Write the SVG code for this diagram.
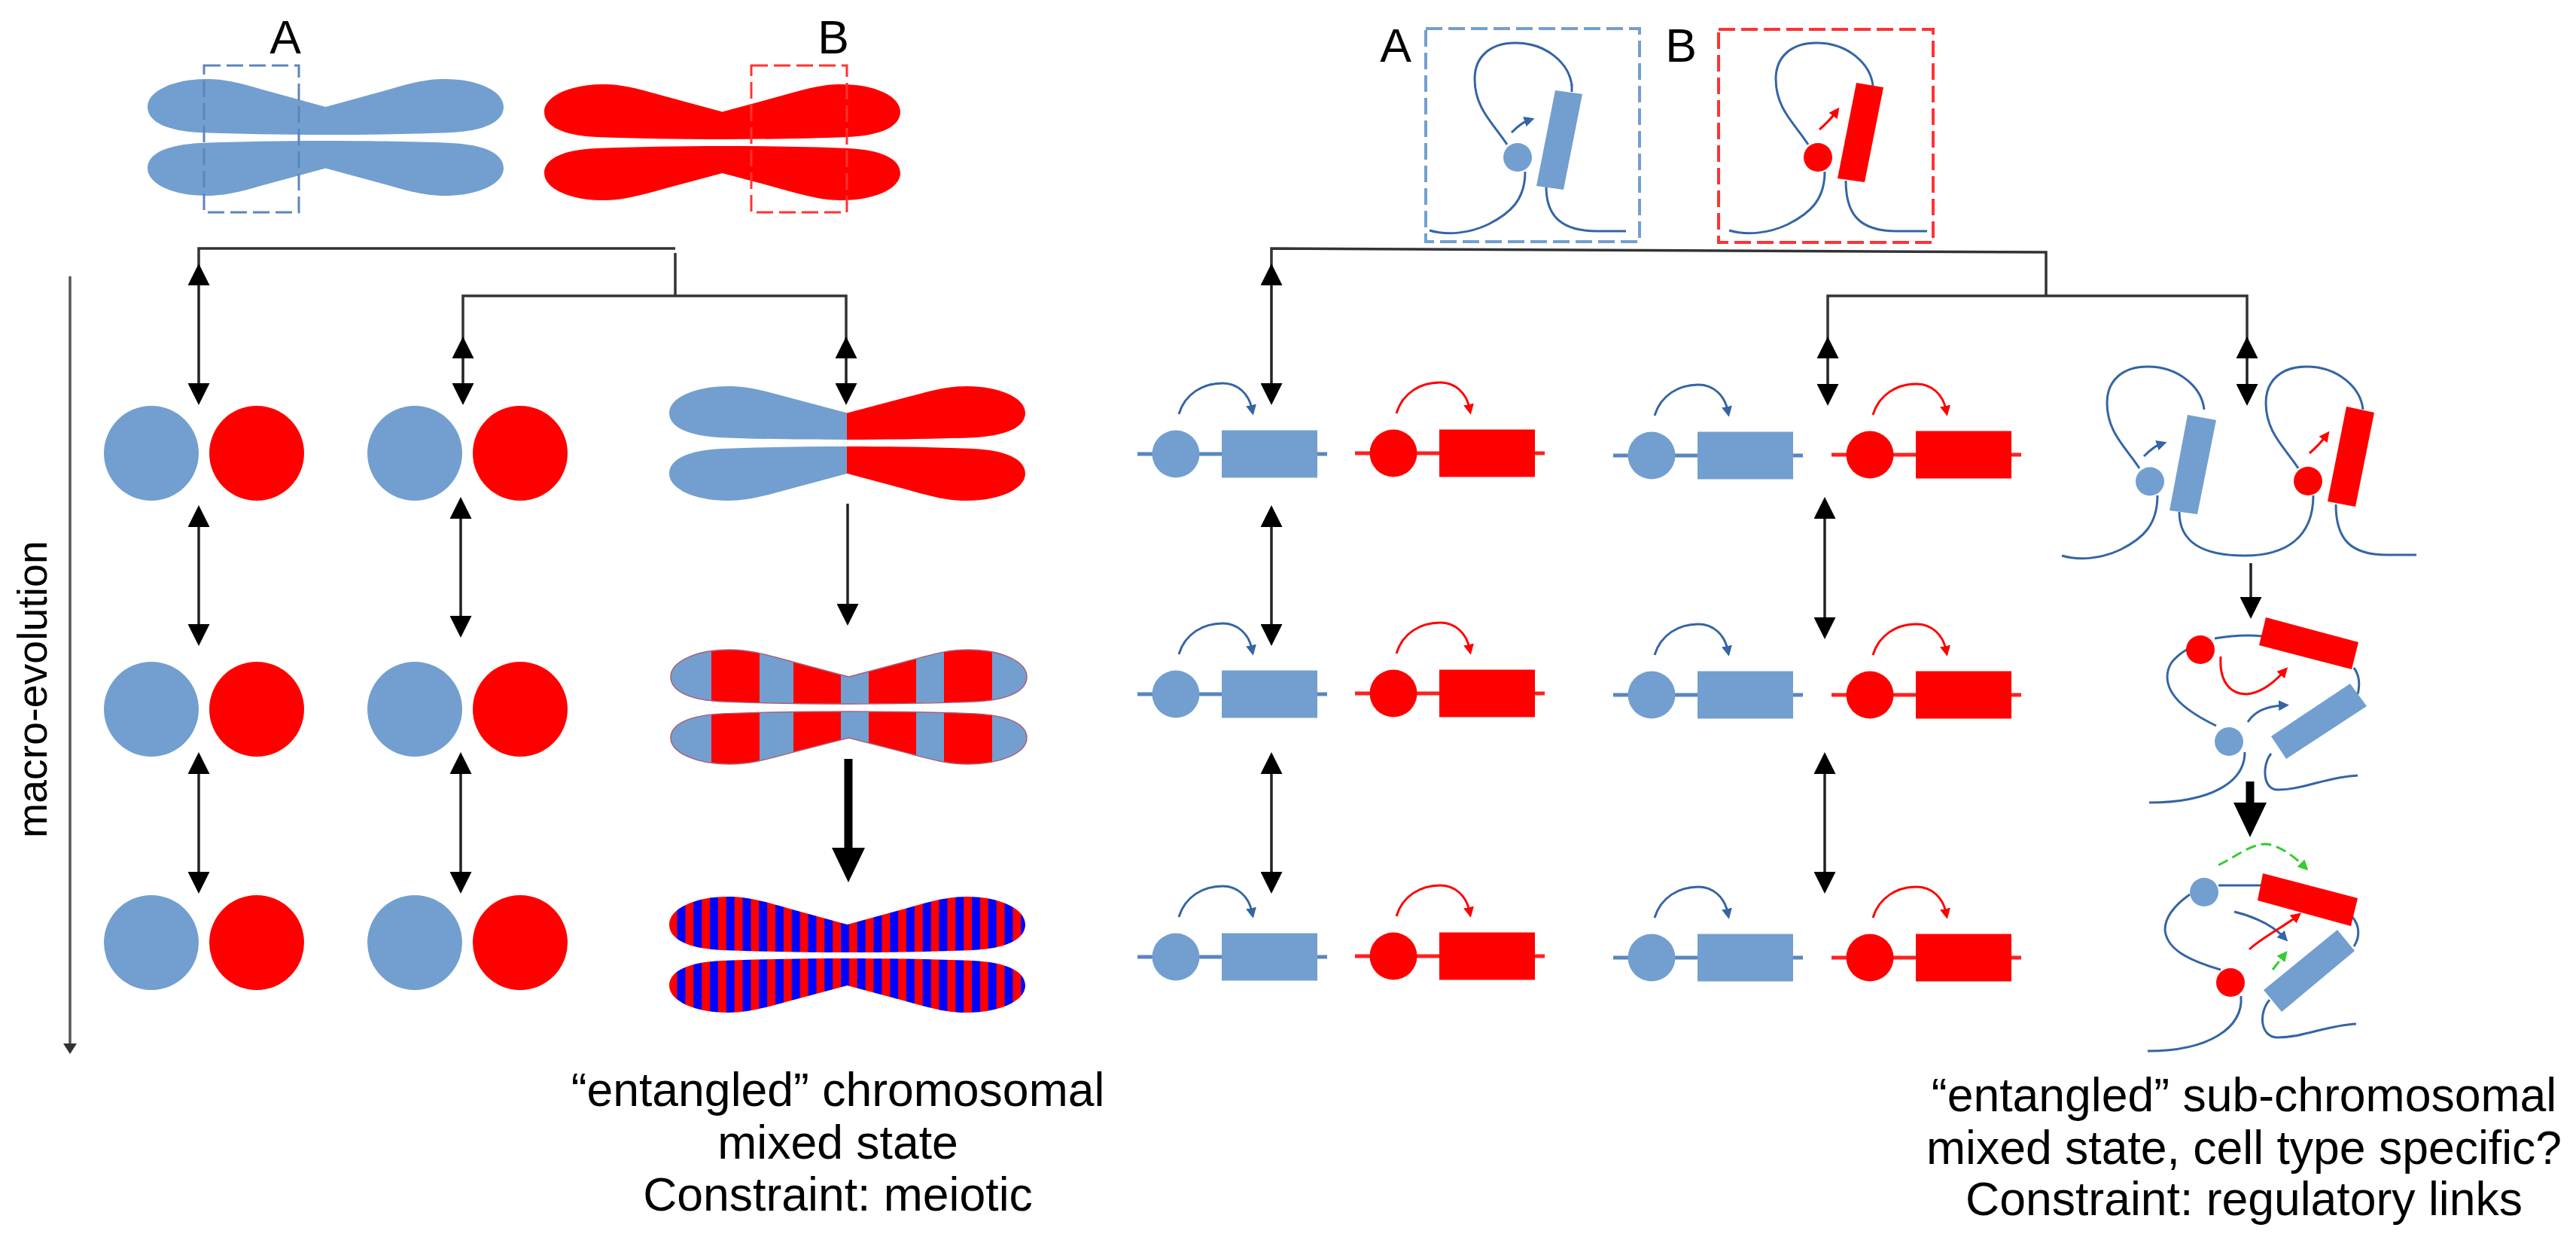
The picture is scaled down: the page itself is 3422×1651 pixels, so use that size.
<svg xmlns="http://www.w3.org/2000/svg" xmlns:xlink="http://www.w3.org/1999/xlink" width="3422" height="1651" viewBox="0 0 3422 1651">
<style>
text{font-family:"Liberation Sans",Arial,sans-serif;fill:#000}
.t{font-size:62.5px;text-anchor:middle}
.b{fill:#729fcf}
.r{fill:#ff0000}
.s{fill:none;stroke:#3465a4;stroke-width:3}
.ab{fill:none;stroke:#3465a4;stroke-width:3;marker-end:url(#hb)}
.ar{fill:none;stroke:#ff0000;stroke-width:3;marker-end:url(#hr)}
.ag{fill:none;stroke:#33cc33;stroke-width:3;stroke-dasharray:14 7;marker-end:url(#hg)}
.c{fill:none;stroke:#333;stroke-width:3.5}
.d{stroke:#222;stroke-width:3.5;fill:none;marker-start:url(#hk);marker-end:url(#hk)}
.o{stroke:#222;stroke-width:3.5;fill:none;marker-end:url(#hk)}
.th{stroke:#000;stroke-width:11;fill:none;marker-end:url(#hbig)}
.db{fill:none;stroke:#729fcf;stroke-width:4;stroke-dasharray:22 8}
.dr{fill:none;stroke:#ff3333;stroke-width:4;stroke-dasharray:22 8}
</style>
<defs>
<marker id="hk" markerUnits="userSpaceOnUse" markerWidth="29" markerHeight="29" refX="10" refY="14.5" orient="auto-start-reverse"><path d="M0,0L29,14.5L0,29Z" fill="#000"/></marker>
<marker id="hm" markerUnits="userSpaceOnUse" markerWidth="14" markerHeight="18" refX="6" refY="9" orient="auto"><path d="M0,0L14,9L0,18Z" fill="#333"/></marker>
<marker id="hbig" markerUnits="userSpaceOnUse" markerWidth="46" markerHeight="44" refX="10" refY="22" orient="auto"><path d="M0,0L46,22L0,44Z" fill="#000"/></marker>
<marker id="hb" markerUnits="userSpaceOnUse" markerWidth="14" markerHeight="14" refX="5" refY="7" orient="auto"><path d="M0,0L14,7L0,14Z" fill="#3465a4"/></marker>
<marker id="hr" markerUnits="userSpaceOnUse" markerWidth="14" markerHeight="14" refX="5" refY="7" orient="auto"><path d="M0,0L14,7L0,14Z" fill="#ff0000"/></marker>
<marker id="hg" markerUnits="userSpaceOnUse" markerWidth="14" markerHeight="14" refX="5" refY="7" orient="auto"><path d="M0,0L14,7L0,14Z" fill="#33cc33"/></marker>
<path id="chr" d="M236.5,37L160,16C125,6 105,0 78,0C34,0 0,16 0,37C0,57 26,69 70,71C120,73 180,74 236.5,74C293,74 353,73 403,71C447,69 473,57 473,37C473,16 439,0 395,0C368,0 348,6 313,16Z"/>
<pattern id="split" patternUnits="userSpaceOnUse" width="473" height="80"><rect width="236" height="80" fill="#729fcf"/><rect x="236" width="237" height="80" fill="#ff0000"/></pattern>
<pattern id="bands" patternUnits="userSpaceOnUse" width="473" height="80"><rect width="473" height="80" fill="#ff0000"/><rect width="54" height="80" fill="#729fcf"/><rect x="118" width="45" height="80" fill="#729fcf"/><rect x="226" width="37" height="80" fill="#729fcf"/><rect x="326" width="37" height="80" fill="#729fcf"/><rect x="427" width="46" height="80" fill="#729fcf"/></pattern>
<pattern id="fine" patternUnits="userSpaceOnUse" x="228" width="21.75" height="80"><rect width="21.75" height="80" fill="#ff0000"/><rect width="11" height="80" fill="#0000ff"/></pattern>
<g id="geneB"><path d="M-51,0H201" stroke="#5a86bd" stroke-width="5" fill="none"/><circle r="31.5" class="b"/><rect x="61" y="-31.5" width="127" height="63" class="b"/><path class="ab" d="M4,-53C12,-80 36,-94 62,-94C82,-94 97,-80 101,-60"/></g>
<g id="geneR"><path d="M-51,0H201" stroke="#ff2020" stroke-width="5" fill="none"/><circle r="31.5" class="r"/><rect x="61" y="-31.5" width="127" height="63" class="r"/><path class="ar" d="M4,-53C12,-80 36,-94 62,-94C82,-94 97,-80 101,-60"/></g>
<g id="loopTop"><path class="s" d="M2402,192C2385,165 2359,145 2359,105C2359,75 2380,57 2413,57C2455,57 2485,85 2488,114"/></g>
</defs>
<rect width="3422" height="1651" fill="#fff"/>

<g id="chromosome-a"><use href="#chr" class="b" transform="translate(196,105)"/><use href="#chr" class="b" transform="translate(196,260) scale(1,-.986)"/><rect class="db" x="271" y="87" width="126" height="195" style="stroke:#5a86bd;stroke-width:3"/><text class="t" x="379" y="71">A</text></g>
<g id="chromosome-b"><use href="#chr" class="r" transform="translate(723,112) scale(1,.986)"/><use href="#chr" class="r" transform="translate(723,266) scale(1,-.973)"/><rect class="dr" x="998" y="87" width="127" height="195" style="stroke-width:3"/><text class="t" x="1107" y="71">B</text></g>

<g id="macro-evolution-label"><text transform="translate(62,1113) rotate(-90)" font-size="55.5">macro-evolution</text></g>

<g id="c1-r1"><circle cx="201" cy="602" r="63" class="b"/><circle cx="341" cy="602" r="63" class="r"/></g>
<g id="c1-r2"><circle cx="201" cy="942" r="63" class="b"/><circle cx="341" cy="942" r="63" class="r"/></g>
<g id="c1-r3"><circle cx="201" cy="1252" r="63" class="b"/><circle cx="341" cy="1252" r="63" class="r"/></g>
<g id="c2-r1"><circle cx="551" cy="602" r="63" class="b"/><circle cx="691" cy="602" r="63" class="r"/></g>
<g id="c2-r2"><circle cx="551" cy="942" r="63" class="b"/><circle cx="691" cy="942" r="63" class="r"/></g>
<g id="c2-r3"><circle cx="551" cy="1252" r="63" class="b"/><circle cx="691" cy="1252" r="63" class="r"/></g>

<g id="chr-split"><use href="#chr" fill="url(#split)" transform="translate(889,513) scale(1,.96)"/><use href="#chr" fill="url(#split)" transform="translate(889,665) scale(1,-.973)"/></g>
<g id="chr-bands"><use href="#chr" fill="url(#bands)" stroke="#a8607a" stroke-width="1.5" transform="translate(891,863) scale(1,.973)"/><use href="#chr" fill="url(#bands)" stroke="#a8607a" stroke-width="1.5" transform="translate(891,1015) scale(1,-.946)"/></g>
<g id="chr-fine"><use href="#chr" fill="url(#fine)" transform="translate(889,1191)"/><use href="#chr" fill="url(#fine)" transform="translate(889,1345) scale(1,-.973)"/></g>

<g id="label-chromosomal"><text class="t" x="1113" y="1469">“entangled” chromosomal</text><text class="t" x="1113" y="1539">mixed state</text><text class="t" x="1113" y="1608">Constraint: meiotic</text></g>

<g id="box-a"><rect class="db" x="1894" y="38" width="284" height="283"/><text class="t" x="1854" y="82">A</text>
<use href="#loopTop" transform="translate(-400,0)"/><path class="s" d="M2088,112L2088,122"/>
<path class="s" d="M1899,306C1922,313 1952,310 1977,298C2007,283 2026,265 2026,228"/><path class="s" d="M2054,248C2054,285 2072,307 2122,307L2160,307"/>
<circle cx="2016" cy="209" r="19" class="b"/><polygon class="b" points="2066,120 2102,125 2077,252 2041,247"/><path class="ab" d="M2008,176C2016,168 2024,162 2030,160"/></g>
<g id="box-b"><rect class="dr" x="2283" y="39" width="285" height="283"/><text class="t" x="2233" y="82">B</text>
<use href="#loopTop"/>
<path class="s" d="M2297,306C2320,313 2350,310 2375,298C2405,283 2424,265 2424,228"/><path class="s" d="M2452,240C2452,285 2470,307 2520,307L2560,307"/>
<circle cx="2415" cy="209" r="19" class="r"/><polygon class="r" points="2466,110 2502,116 2477,242 2441,237"/><path class="ar" d="M2417,172C2425,165 2432,158 2438,150"/></g>

<g id="g1-r1"><use href="#geneB" x="1562" y="603"/><use href="#geneR" x="1851" y="602"/></g>
<g id="g1-r2"><use href="#geneB" x="1562" y="922"/><use href="#geneR" x="1851" y="921"/></g>
<g id="g1-r3"><use href="#geneB" x="1562" y="1271"/><use href="#geneR" x="1851" y="1270"/></g>
<g id="g2-r1"><use href="#geneB" x="2194" y="605"/><use href="#geneR" x="2484" y="604"/></g>
<g id="g2-r2"><use href="#geneB" x="2194" y="923"/><use href="#geneR" x="2484" y="923"/></g>
<g id="g2-r3"><use href="#geneB" x="2194" y="1272"/><use href="#geneR" x="2484" y="1272"/></g>

<g id="pair-loops">
<use href="#loopTop" transform="translate(440,430)"/><use href="#loopTop" transform="translate(651,430)"/>
<path class="s" d="M2739,738C2762,745 2792,742 2817,730C2847,715 2866,697 2866,658"/>
<path class="s" d="M2895,680C2895,720 2925,738 2982,738C3035,738 3073,715 3073,658"/>
<path class="s" d="M3103,670C3103,715 3121,737 3171,737L3210,737"/>
<circle cx="2856" cy="639.5" r="19" class="b"/><polygon class="b" points="2906,551 2944,558 2919,683 2882,678"/><path class="ab" d="M2848,606C2856,598 2864,592 2870,590"/>
<circle cx="3066" cy="639" r="19" class="r"/><polygon class="r" points="3117,540 3154,548 3129,673 3092,666"/><path class="ar" d="M3068,602C3076,595 3083,588 3089,580"/>
</g>

<g id="mixed-1">
<path class="s" d="M2942,848C2960,845 2985,843 3005,845"/>
<path class="s" d="M2906,862C2885,875 2879,885 2879,900C2880,925 2905,945 2944,964"/>
<path class="s" d="M3127,887C3135,898 3135,910 3132,922"/>
<path class="s" d="M2982,999C2982,1040 2935,1066 2855,1066"/>
<path class="s" d="M3017,1001C3005,1015 3005,1049 3026,1049C3060,1049 3090,1032 3132,1030"/>
<circle cx="2923" cy="863" r="19" class="r"/><polygon class="r" points="3010,820 3133,853 3124,889 3001,857"/>
<circle cx="2961" cy="985" r="19" class="b"/><polygon class="b" points="3122,908 3144,938 3037,1008 3017,978"/>
<path class="ar" d="M2950,872C2948,905 2962,922 2985,922C3005,920 3022,905 3033,893"/>
<path class="ab" d="M2986,959C2995,945 3010,938 3032,937"/>
</g>
<g id="mixed-2">
<path class="ag" d="M2947,1149C2970,1138 2990,1121 3010,1121C3025,1122 3045,1135 3060,1150"/>
<path class="s" d="M2947,1176H3006"/>
<path class="s" d="M2909,1188C2885,1205 2876,1220 2876,1235C2878,1260 2905,1275 2950,1288"/>
<path class="s" d="M3125,1218C3135,1230 3135,1245 3127,1257"/>
<path class="s" d="M2977,1323C2980,1365 2935,1396 2853,1396"/>
<path class="s" d="M3015,1328C3000,1345 3002,1378 3026,1378C3060,1378 3090,1362 3130,1360"/>
<circle cx="2928" cy="1185" r="19" class="b"/><polygon class="r" points="3006,1160 3132,1193 3123,1230 2999,1196"/>
<circle cx="2963" cy="1305" r="19" class="r"/><polygon class="b" points="3105,1235 3128,1263 3031,1344 3007,1315"/>
<path class="ab" d="M2968,1211C2985,1215 3015,1225 3033,1244"/>
<path class="ar" d="M2988,1261C3005,1245 3035,1230 3050,1218"/>
<path class="ag" d="M3019,1288L3033,1270"/>
</g>

<g id="label-sub"><text class="t" x="2981" y="1476">“entangled” sub-chromosomal</text><text class="t" x="2981" y="1546">mixed state, cell type specific?</text><text class="t" x="2981" y="1614">Constraint: regulatory links</text></g>

<g id="connectors">
<path class="c" d="M264,369V330H897"/><path class="c" d="M897,336V393"/><path class="c" d="M615,466V393H1124V466"/>
<path class="c" d="M1689,369V330L2718,335V393"/><path class="c" d="M2428,466V393H2985V466"/>
<path class="d" d="M264,369V519"/><path class="d" d="M615,466V519"/><path class="d" d="M1124,466V519"/>
<path class="d" d="M264,690V839"/><path class="d" d="M612,679V828"/>
<path class="d" d="M264,1018V1168"/><path class="d" d="M612,1018V1168"/>
<path class="d" d="M1689,369V519"/><path class="d" d="M2428,466V520"/><path class="d" d="M2985,466V520"/>
<path class="d" d="M1689,690V839"/><path class="d" d="M1689,1018V1168"/>
<path class="d" d="M2424,679V830"/><path class="d" d="M2424,1018V1168"/>
<path class="o" d="M1126,669V812"/><path class="o" d="M2990,748V803"/>
<path class="th" d="M1127,1008V1136"/><path class="th" d="M2989,1038V1076"/>
<path d="M93,367V1392" stroke="#555" stroke-width="3.5" fill="none" marker-end="url(#hm)"/>
</g>
</svg>
